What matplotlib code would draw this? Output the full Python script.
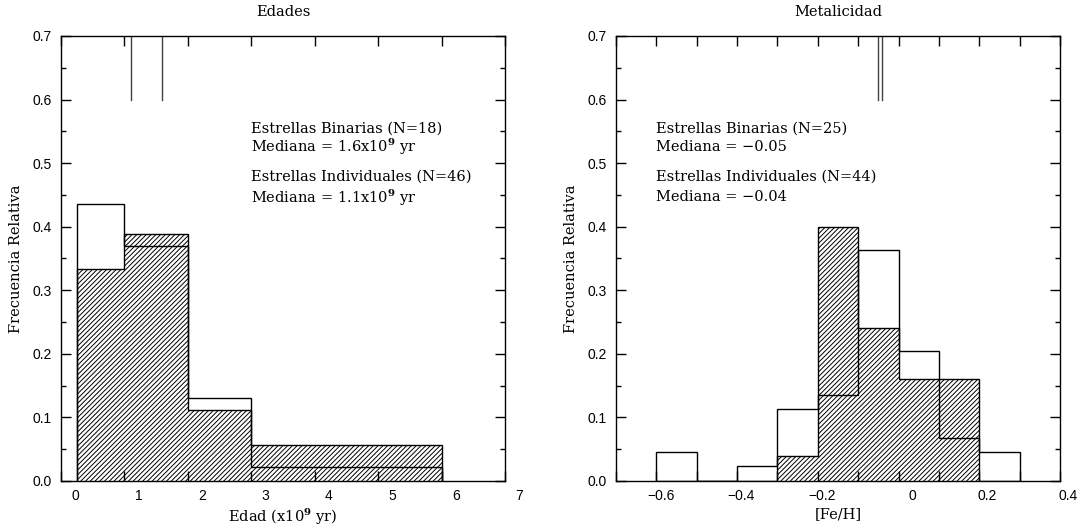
import numpy as np
import matplotlib
matplotlib.use('Agg')
from matplotlib import pyplot as plt
from matplotlib.ticker import MultipleLocator, FixedLocator
from matplotlib.transforms import ScaledTranslation

# Edades (x10^9 yr)
age_edges = [0.25, 1.0, 2.0, 3.0, 6.0]
age_binarias = [0.333, 0.389, 0.111, 0.056]        # N=18, rayado
age_individuales = [0.435, 0.370, 0.130, 0.022]    # N=46, abierto
age_medianas = [1.6, 1.1]

# Metalicidad [Fe/H]
feh_edges = [-0.6, -0.5, -0.4, -0.3, -0.2, -0.1, 0.0, 0.1, 0.2, 0.3]
feh_binarias = [0.0, 0.0, 0.0, 0.040, 0.400, 0.240, 0.160, 0.160, 0.0]          # N=25
feh_individuales = [0.045, 0.0, 0.023, 0.114, 0.136, 0.364, 0.205, 0.068, 0.045]  # N=44
feh_medianas = [-0.05, -0.04]

age_texts = ['Estrellas Binarias (N=18)', r'Mediana = 1.6x10$^{\mathbf{9}}$ yr',
             'Estrellas Individuales (N=46)', r'Mediana = 1.1x10$^{\mathbf{9}}$ yr']
feh_texts = ['Estrellas Binarias (N=25)', 'Mediana = \u22120.05',
             'Estrellas Individuales (N=44)', 'Mediana = \u22120.04']
text_y = [0.555, 0.525, 0.478, 0.446]

plt.rcParams['font.family'] = ['DejaVu Serif']
plt.rcParams['mathtext.fontset'] = 'dejavuserif'
plt.rcParams['hatch.linewidth'] = 0.7
plt.rcParams['axes.linewidth'] = 1.0

SERIF = 10.5
W, H = 1082, 528
fig = plt.figure(figsize=(W / 100, H / 100), dpi=100)


def panel(rect, edges, hatched, opened, medians, xlim, texts, text_x,
          title, xlabel, xmajor, xminor, xlabels):
    ax = fig.add_axes([rect[0] / W, 1 - rect[1] / H, 444 / W, 445 / H])
    ax.set_xlim(*xlim)
    ax.set_ylim(0, 0.7)

    ax.stairs(hatched, edges, baseline=0, fill=True, facecolor='white',
              edgecolor='black', hatch='///////', linewidth=1.0)
    ax.stairs(opened, edges, baseline=0, fill=False, color='black', linewidth=1.0)
    for m in medians:
        ax.plot([m, m], [0.6, 0.7], color='0.25', linewidth=1.0)

    for t, y in zip(texts, text_y):
        ax.text(text_x, y, t, fontsize=SERIF, va='center', ha='left')

    ax.text(0.5, 1.054, title, transform=ax.transAxes, ha='center',
            va='center', fontsize=SERIF)
    ax.set_xlabel(xlabel, fontsize=SERIF)
    ax.xaxis.set_label_coords(0.5, -0.058)
    ax.set_ylabel('Frecuencia Relativa', fontsize=SERIF)
    ax.yaxis.set_label_coords(-0.086, 0.5)

    ax.xaxis.set_major_locator(FixedLocator(xmajor))
    ax.set_xticklabels(xlabels)
    if xminor:
        ax.xaxis.set_minor_locator(MultipleLocator(xminor))
    ax.yaxis.set_major_locator(MultipleLocator(0.1))
    ax.yaxis.set_minor_locator(MultipleLocator(0.05))
    ax.set_yticklabels([f'{v:.1f}' for v in ax.get_yticks()])

    ax.tick_params(which='both', direction='in', top=True, right=True,
                   labelsize=10, width=1.0)
    ax.tick_params(axis='x', which='both', length=7, pad=5.5)
    ax.tick_params(axis='y', which='major', length=7, pad=6.5)
    ax.tick_params(axis='y', which='minor', length=3.3)
    for lab in ax.get_xticklabels() + ax.get_yticklabels():
        lab.set_fontfamily('Liberation Sans')
    shift = ScaledTranslation(0.18, 0, fig.dpi_scale_trans)
    for lab in ax.get_xticklabels():
        lab.set_ha('right')
        lab.set_transform(lab.get_transform() + shift)
    return ax


panel((61, 481), age_edges, age_binarias, age_individuales, age_medianas,
      (0, 7), age_texts, 3.0, 'Edades', r'Edad (x10$^{\mathbf{9}}$ yr)',
      list(range(8)), None, [str(i) for i in range(8)])

feh_ticks = [-0.6, -0.4, -0.2, 0.0, 0.2, 0.4]
feh_ticklabels = ['\u22120.6', '\u22120.4', '\u22120.2', '0', '0.2', '0.4']
panel((616, 481), feh_edges, feh_binarias, feh_individuales, feh_medianas,
      (-0.7, 0.4), feh_texts, -0.6, 'Metalicidad', '[Fe/H]',
      feh_ticks, 0.1, feh_ticklabels)

fig.savefig('out.png', dpi=100)
